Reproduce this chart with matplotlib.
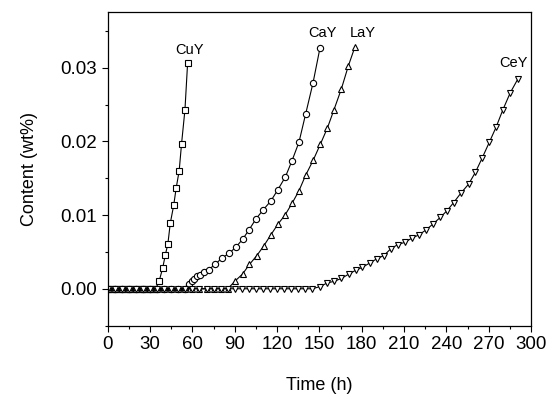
import matplotlib
matplotlib.use("Agg")
import matplotlib.pyplot as plt
from matplotlib.ticker import MultipleLocator

plt.rcParams['font.family'] = ['Liberation Sans', 'DejaVu Sans']

# CuY (squares)
cuy_t = [0, 2, 4, 6, 8, 10, 12, 14, 16, 18, 20, 22, 24, 26, 28, 30, 32, 34,
         36.5, 38.9, 40.8, 42.6, 44.3, 46.7, 48.5, 50.6, 52.3, 54.7, 56.6]
cuy_v = [0]*18 + [0.0011, 0.0028, 0.0046, 0.0061, 0.0089, 0.0113, 0.0137,
                  0.0160, 0.0197, 0.0243, 0.0307]

# CaY (circles)
cay_t = [0, 5, 10, 15, 20, 25, 30, 35, 40, 45, 50, 55,
         57.7, 59.4, 61.3, 63.2, 65.3, 67.9, 71.4, 76.1, 81, 86, 91, 95.5,
         100.1, 105.1, 110.1, 115.5, 120.4, 125.9, 130.6, 135.5, 140.2, 145.4, 150.4]
cay_v = [0]*12 + [0.0007, 0.0010, 0.0013, 0.0017, 0.0019, 0.0023, 0.0026, 0.0033,
                  0.0042, 0.0048, 0.0057, 0.0067, 0.0080, 0.0095, 0.0107, 0.0119,
                  0.0134, 0.0152, 0.0174, 0.0199, 0.0237, 0.0279, 0.0327]

# LaY (up triangles)
lay_t = [0, 5, 10, 15, 20, 25, 30, 35, 40, 45, 50, 55, 60, 65, 70, 75, 80, 85,
         90.5, 95.5, 100.4, 105.6, 110.5, 115.5, 120.7, 125.6, 130.6, 135.5,
         140.2, 145.7, 150.6, 155.6, 160.3, 165.5, 170.4, 175.1]
lay_v = [0]*18 + [0.0011, 0.0020, 0.0033, 0.0045, 0.0058, 0.0073, 0.0088, 0.0100,
                  0.0116, 0.0133, 0.0154, 0.0175, 0.0196, 0.0218, 0.0243, 0.0271,
                  0.0302, 0.0328]

# CeY (down triangles)
cey_t = list(range(0, 150, 5)) + [150.4, 155.6, 160.3, 165.5, 170.9, 175.6, 180.3,
         185.7, 190.9, 195.6, 200.4, 205.5, 210.5, 215.7, 220.4, 225.6, 230.5, 235.7,
         240.4, 245.1, 250.3, 255.7, 260.5, 265.2, 270.4, 275.1, 280, 285.2, 290.4]
cey_v = [0]*30 + [0.0003, 0.0008, 0.0010, 0.0014, 0.0020, 0.0025, 0.0029, 0.0035,
                  0.0041, 0.0045, 0.0054, 0.0060, 0.0063, 0.0069, 0.0073, 0.0080,
                  0.0088, 0.0097, 0.0106, 0.0117, 0.0130, 0.0142, 0.0158, 0.0177,
                  0.0199, 0.0219, 0.0243, 0.0266, 0.0284]

series = [
    ("CuY", cuy_t, cuy_v, 's', (57.6, 0.0324)),
    ("CaY", cay_t, cay_v, 'o', (152, 0.0347)),
    ("LaY", lay_t, lay_v, '^', (181, 0.0347)),
    ("CeY", cey_t, cey_v, 'v', (287.2, 0.0307)),
]

fig = plt.figure(figsize=(5.47, 4.01), dpi=100)
ax = fig.add_axes([0.197, 0.188, 0.774, 0.781])

for name, t, v, m, (lx, ly) in series:
    ax.plot(t, v, color='black', lw=0.8, marker=m, markersize=4.5,
            markerfacecolor='white', markeredgecolor='black', markeredgewidth=0.8)
    ax.text(lx, ly, name, ha='center', va='center', fontsize=10.5)

ax.set_xlim(0, 300)
ax.set_ylim(-0.005, 0.0375)
ax.xaxis.set_major_locator(MultipleLocator(30))
ax.xaxis.set_minor_locator(MultipleLocator(15))
ax.yaxis.set_major_locator(MultipleLocator(0.01))
ax.yaxis.set_minor_locator(MultipleLocator(0.005))
ax.yaxis.set_major_formatter(matplotlib.ticker.FormatStrFormatter('%.2f'))
ax.tick_params(which='major', direction='out', length=4, width=0.8, labelsize=13.5)
ax.tick_params(which='minor', direction='out', length=2.5, width=0.8)
ax.tick_params(top=False, right=False)
for s in ax.spines.values():
    s.set_linewidth(0.9)

ax.set_xlabel("Time (h)", fontsize=13, labelpad=17)
ax.set_ylabel("Content (wt%)", fontsize=13, labelpad=16)

fig.savefig("out.png", dpi=100)
